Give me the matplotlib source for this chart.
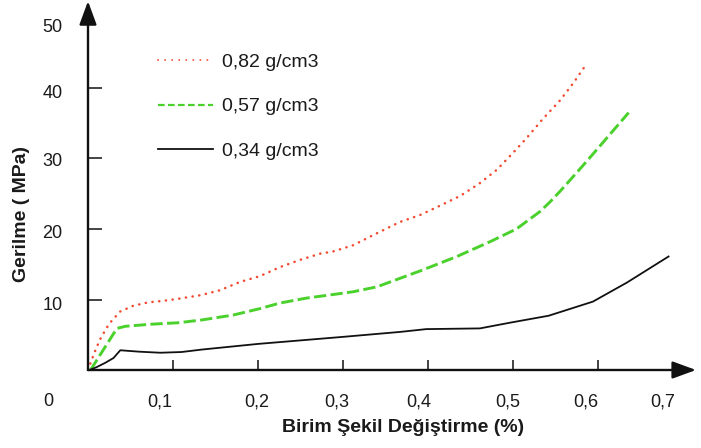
import matplotlib
matplotlib.use("Agg")
import matplotlib.pyplot as plt
from matplotlib.lines import Line2D

# ---- data ----
x_082 = [0, 0.007, 0.014, 0.022, 0.028, 0.038, 0.053, 0.071, 0.088, 0.106, 0.132, 0.155,
         0.179, 0.202, 0.226, 0.249, 0.273, 0.288, 0.312, 0.335, 0.367, 0.391, 0.414,
         0.438, 0.461, 0.481, 0.5, 0.516, 0.535, 0.555, 0.571, 0.587]
y_082 = [0, 2.3, 4.3, 6.0, 7.0, 8.3, 9.1, 9.6, 9.8, 10.1, 10.6, 11.3,
         12.5, 13.3, 14.6, 15.6, 16.5, 16.8, 17.7, 19.1, 21.0, 22.0, 23.3,
         24.7, 26.5, 28.4, 30.8, 32.9, 35.6, 38.2, 40.7, 43.5]

x_057 = [0.003, 0.034, 0.044, 0.075, 0.106, 0.134, 0.171, 0.202, 0.226, 0.257, 0.288,
         0.312, 0.34, 0.367, 0.394, 0.434, 0.473, 0.504, 0.532, 0.544, 0.555, 0.575,
         0.591, 0.636]
y_057 = [0, 5.9, 6.2, 6.5, 6.7, 7.1, 7.8, 8.7, 9.5, 10.2, 10.7,
         11.1, 11.8, 13.0, 14.2, 16.1, 18.2, 20.0, 22.5, 23.9, 25.3, 28.0,
         30.2, 36.5]

x_034 = [0.002, 0.01, 0.02, 0.03, 0.038, 0.06, 0.085, 0.11, 0.134, 0.2, 0.3, 0.367,
         0.398, 0.461, 0.496, 0.542, 0.594, 0.634, 0.683]
y_034 = [0, 0.4, 1.0, 1.7, 2.8, 2.6, 2.45, 2.55, 2.9, 3.7, 4.7, 5.4,
         5.8, 5.9, 6.7, 7.7, 9.7, 12.4, 16.1]

series_labels = ["0,82 g/cm3", "0,57 g/cm3", "0,34 g/cm3"]

x_ticks = [0.1, 0.2, 0.3, 0.4, 0.5, 0.6]
x_tick_labels = ["0,1", "0,2", "0,3", "0,4", "0,5", "0,6", "0,7"]
y_ticks = [10, 20, 30, 40]
y_tick_labels = ["10", "20", "30", "40", "50"]

# label anchor positions as drawn in the reference (slightly off the tick marks)
x_label_pos = [0.0841, 0.1988, 0.2929, 0.3894, 0.4941, 0.5859, 0.6765]
y_label_pos = [9.4, 19.6, 29.8, 39.5, 48.9]

RED = "#f24b32"
GREEN = "#4ad12b"
TXT = "#1a1a1a"

plt.rcParams["font.family"] = ["Liberation Sans", "DejaVu Sans"]

fig = plt.figure(figsize=(7.01, 4.48), dpi=100)
ax = fig.add_axes([88 / 701, 78 / 448, 608 / 701, 367 / 448])
ax.set_xlim(0, 608 / 850)
ax.set_ylim(0, 367 / 7.05)

l1, = ax.plot(x_082, y_082, color=RED, lw=1.8, dashes=(0.1, 2.6),
              dash_capstyle="round", solid_capstyle="round")
l2, = ax.plot(x_057, y_057, color=GREEN, lw=2.1, dashes=(4.2, 1.5),
              dash_capstyle="butt")
l3, = ax.plot(x_034, y_034, color="#111111", lw=1.3)
for l in (l1, l2, l3):
    l.set_clip_on(False)

for s in ax.spines.values():
    s.set_visible(False)

# axes with arrow heads
arrow_kw = dict(arrowstyle="-|>,head_length=0.6,head_width=0.22", lw=1.7,
                color="#111111", mutation_scale=24, shrinkA=0, shrinkB=0)
ax.annotate("", xy=(1, 0), xytext=(0, 0), xycoords="axes fraction",
            textcoords="axes fraction", arrowprops=arrow_kw)
ax.annotate("", xy=(0, 1.005), xytext=(0, 0), xycoords="axes fraction",
            textcoords="axes fraction", arrowprops=arrow_kw)

# tick marks (major, no labels)
ax.set_xticks(x_ticks)
ax.set_yticks(y_ticks)
ax.tick_params(axis="x", which="major", direction="in", length=7, width=1.1,
               labelbottom=False, color="#111111")
ax.tick_params(axis="y", which="major", direction="in", length=10, width=1.1,
               labelleft=False, color="#111111")

# tick labels (minor, no marks)
ax.set_xticks(x_label_pos, x_tick_labels, minor=True)
ax.set_yticks(y_label_pos, y_tick_labels, minor=True)
ax.tick_params(axis="x", which="minor", length=0, pad=17, labelsize=13,
               labelcolor=TXT)
ax.tick_params(axis="y", which="minor", length=0, pad=18.4, labelsize=13,
               labelcolor=TXT)

ax.annotate("0", xy=(0, 0), xycoords="data", xytext=(-28.8, -22.5),
            textcoords="offset points", ha="center", va="center",
            fontsize=13, color=TXT, annotation_clip=False)

ax.text(0.518, -0.158, "Birim Şekil Değiştirme (%)", transform=ax.transAxes,
        ha="center", va="center", fontsize=14, fontweight="bold", color=TXT)
ax.text(-0.110, 0.425, "Gerilme ( MPa)", transform=ax.transAxes, rotation=90,
        ha="center", va="center", fontsize=14, fontweight="bold", color=TXT)

handles = [
    Line2D([], [], color=RED, lw=1.3, dashes=(0.1, 3.8), dash_capstyle="round"),
    Line2D([], [], color=GREEN, lw=1.6, dashes=(3, 1.5)),
    Line2D([], [], color="#111111", lw=1.3),
]
leg = ax.legend(handles, series_labels, loc="upper left",
                bbox_to_anchor=(0.115, 0.864), frameon=False, fontsize=14,
                borderaxespad=0, borderpad=0, handlelength=2.83,
                handletextpad=0.46, labelspacing=1.40)
for t in leg.get_texts():
    t.set_color(TXT)

fig.savefig("out.png", dpi=100)
